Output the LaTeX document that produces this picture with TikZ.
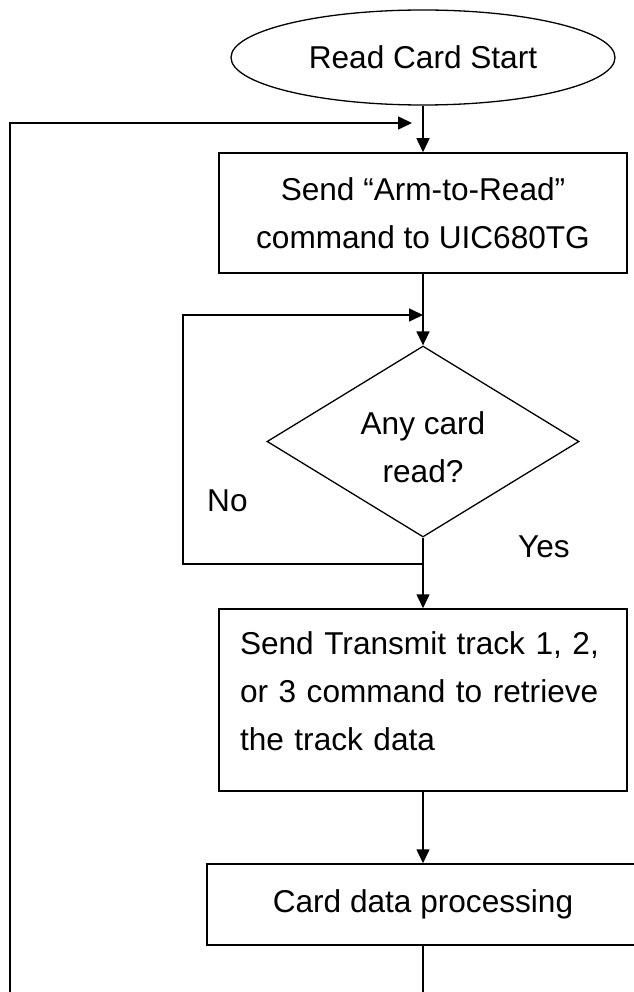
\documentclass[tikz,border=0pt]{standalone}
\usepackage{fontspec}
\setmainfont{Liberation Sans}
\usetikzlibrary{shapes.geometric,arrows.meta}
\begin{document}
\begin{tikzpicture}[x=1pt,y=-1pt,
  every node/.style={font=\fontsize{31.6pt}{48pt}\selectfont, inner sep=0pt},
  startbox/.style={draw, ellipse, line width=1.3pt, minimum width=384pt, minimum height=95pt},
  procbox/.style={draw, rectangle, line width=1.5pt, align=center},
  decbox/.style={draw, diamond, line width=1.3pt, align=center, shape aspect=1.633, minimum width=312pt, minimum height=191pt},
  conn/.style={line width=1.5pt},
  arr/.style={conn, -{Triangle[length=14pt,width=13pt]}},
  lbl/.style={anchor=base west}
]
\useasboundingbox (0,0) rectangle (633,992);

\node[startbox] (start) at (423,57.5) {Read Card Start};
\node[procbox, minimum width=408pt, minimum height=120pt] (arm) at (423,213) {Send “Arm-to-Read”\\command to UIC680TG};
\node[decbox] (dec) at (423,441.5) {\rule{0pt}{35pt}Any card\\read?};
\node[procbox, align=left, text width=366pt, inner xsep=21pt, minimum height=182pt] (trans) at (423,700)
  {Send Transmit track 1, 2,\\or 3 command to retrieve\\the track data\rule[-17pt]{0pt}{17pt}};
\node[procbox, minimum width=432pt, minimum height=81pt] (proc) at (423,904.5) {Card data processing};

\node[lbl] (no) at (207,511) {No};
\node[lbl] (yes) at (518,557) {Yes};

\coordinate (nojoin) at (423,564);
\coordinate (noleft) at (183,564);
\coordinate (notop) at (183,315);
\coordinate (noin) at (423,315);

\coordinate (lbot) at (423,1012);
\coordinate (ltop) at (10,123);
\coordinate (lin) at (412,123);

\draw[arr] (start.south) -- (arm.north);
\draw[arr] (arm.south) -- (dec.north);
\draw[conn] (dec.south) -- (nojoin);
\draw[arr] (nojoin) -- (trans.north);
\draw[arr] (nojoin) -- (noleft) -- (notop) -- (noin);
\draw[arr] (trans.south) -- (proc.north);
\draw[arr] (proc.south) -- (lbot) -| (ltop) -- (lin);
\end{tikzpicture}
\end{document}
